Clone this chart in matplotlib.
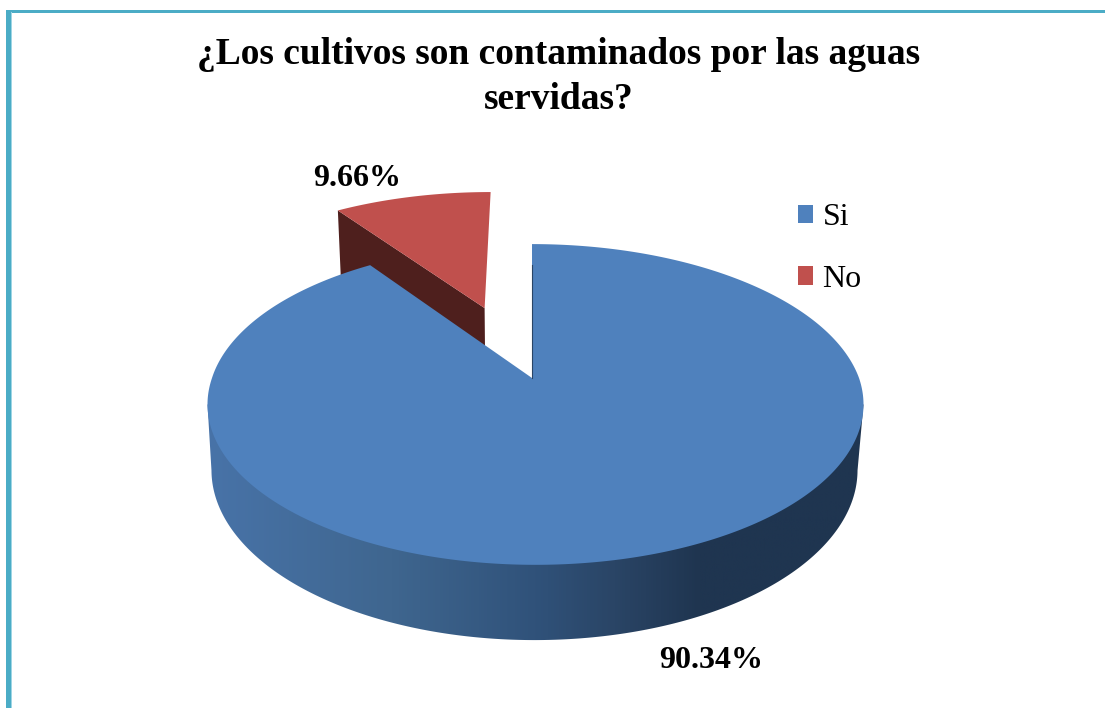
import numpy as np
import matplotlib
matplotlib.use("Agg")
import matplotlib.pyplot as plt
from matplotlib.colors import LinearSegmentedColormap
from matplotlib.patches import Patch, Polygon, Rectangle

plt.rcParams["font.family"] = ["Liberation Serif", "DejaVu Serif"]

title = "¿Los cultivos son contaminados por las aguas\nservidas?"
categories = ["Si", "No"]
values = [90.34, 9.66]
colors = ["#4f81bd", "#c0504d"]

# perspective of the pie disc, in pixels
APEX_TOP = (532, 378)
APEX_BOTTOM = (532, 442)
A_TOP, B_TOP = 323.5, 156
A_BOTTOM, B_BOTTOM = 318.6, 165.4
K = 0.165
EXPLODE = 0.507
NO_DROP = 12
NO_SHIFT = -2
RIM_SHIFT_TOP = 3.5
RIM_SHIFT_BOTTOM = 2.5


def project(u, v, apex, a, b):
    w = 1 + K * v
    return np.column_stack([apex[0] + a * u / w, apex[1] - b * v / w])


def top(u, v):
    return project(u, v, APEX_TOP, A_TOP, B_TOP)


def bottom(u, v):
    return project(u, v, APEX_BOTTOM, A_BOTTOM, B_BOTTOM)


def rim_offset(v, shift):
    # the rim sits slightly right of the slice tip, except at the cut on top
    return np.column_stack([shift * np.clip(1 - v, 0, 1), np.zeros_like(v)])


def arc(start, end, n=300):
    t = np.radians(np.linspace(start, end, n))
    return np.sin(t), np.cos(t)


fig = plt.figure(figsize=(11.05, 7.08), dpi=100)
ax = fig.add_axes([0, 0, 1, 1])
ax.set_xlim(0, 1105)
ax.set_ylim(708, 0)
ax.axis("off")

# teal frame
ax.add_patch(Rectangle((6, 10), 1099, 2.5, color="#4bacc6", lw=0))
ax.add_patch(Rectangle((6, 10), 4.5, 698, color="#4bacc6", lw=0))
ax.add_patch(Rectangle((10.5, 12), 1.2, 696, color="#9ed5e4", lw=0))

si_sweep = 360 * values[0] / sum(values)
mid = np.radians(si_sweep + (360 - si_sweep) / 2)
u0, v0 = EXPLODE * np.sin(mid), EXPLODE * np.cos(mid)
no_offset = np.array([NO_SHIFT, 0])

# exploded slice: cut wall first, then its top face
au, av = arc(si_sweep, 360)
corner_u, corner_v = np.array([au[0]]), np.array([av[0]])
apex_top = top(np.array([u0]), np.array([v0]))[0] + no_offset
apex_low = bottom(np.array([u0]), np.array([v0]))[0] + no_offset + [0, NO_DROP]
corner_top = top(u0 + corner_u, v0 + corner_v)[0] + no_offset
corner_low = bottom(u0 + corner_u, v0 + corner_v)[0] + no_offset + [0, NO_DROP]
ax.add_patch(Polygon([apex_top, corner_top, corner_low, apex_low],
                     facecolor="#4e1f1d", edgecolor="none", zorder=2))
no_face = np.vstack([apex_top, top(u0 + au, v0 + av) + no_offset])
ax.add_patch(Polygon(no_face, facecolor=colors[1], edgecolor="none", zorder=3))

# outer wall of the big slice, shaded from left to right
shade = LinearSegmentedColormap.from_list(
    "wall",
    [(0.0, "#4873a8"), (0.28, "#3f668f"), (0.5, "#30527a"),
     (0.62, "#2a4566"), (0.75, "#1f3550"), (1.0, "#1f3550")],
)
bu, bv = arc(0, 360, 720)
front = bv <= -K
order = np.argsort(bu[front])
fu, fv = bu[front][order], bv[front][order]
wall_low = bottom(fu, fv) + rim_offset(fv, RIM_SHIFT_BOTTOM)
left_end = top(np.array([-np.sqrt(1 - K**2)]), np.array([-K]))[0] + [RIM_SHIFT_TOP, 0]
right_end = top(np.array([np.sqrt(1 - K**2)]), np.array([-K]))[0] + [RIM_SHIFT_TOP, 0]
wall_outline = np.vstack([left_end, wall_low, right_end])
wall_clip = Polygon(wall_outline, transform=ax.transData, facecolor="none", edgecolor="none")
ax.add_patch(wall_clip)
gradient = ax.imshow(np.linspace(0, 1, 512)[None, :], cmap=shade, aspect="auto",
                     extent=(207, 864, 660, 380), zorder=4)
gradient.set_clip_path(wall_clip)
ax.set_xlim(0, 1105)
ax.set_ylim(708, 0)

# top face of the big slice
su, sv = arc(0, si_sweep, 900)
si_face = np.vstack([top(np.array([0.0]), np.array([0.0])),
                     top(su, sv) + rim_offset(sv, RIM_SHIFT_TOP)])
ax.add_patch(Polygon(si_face, facecolor=colors[0], edgecolor="none", zorder=5))
ax.plot([APEX_TOP[0], APEX_TOP[0]], [APEX_TOP[1], 265], color="#2a4566", lw=0.8, zorder=6)

ax.text(559, 109, title, ha="center", va="baseline", multialignment="center",
        fontsize=27, fontweight="bold", linespacing=1.36, color="black", zorder=7)
ax.text(357.5, 178, f"{values[1]:.2f}%", ha="center", va="center",
        fontsize=23, fontweight="bold", zorder=7)
ax.text(711, 660, f"{values[0]:.2f}%", ha="center", va="center",
        fontsize=23, fontweight="bold", zorder=7)

handles = [Patch(facecolor=c, edgecolor="none") for c in colors]
ax.legend(handles, categories, loc="upper left", bbox_to_anchor=(797.5, 203),
          bbox_transform=ax.transData, frameon=False, fontsize=23,
          borderpad=0, borderaxespad=0, handlelength=0.5, handleheight=0.5,
          handletextpad=0.28, labelspacing=1.03)

fig.savefig("out.png", dpi=100, facecolor="white")
